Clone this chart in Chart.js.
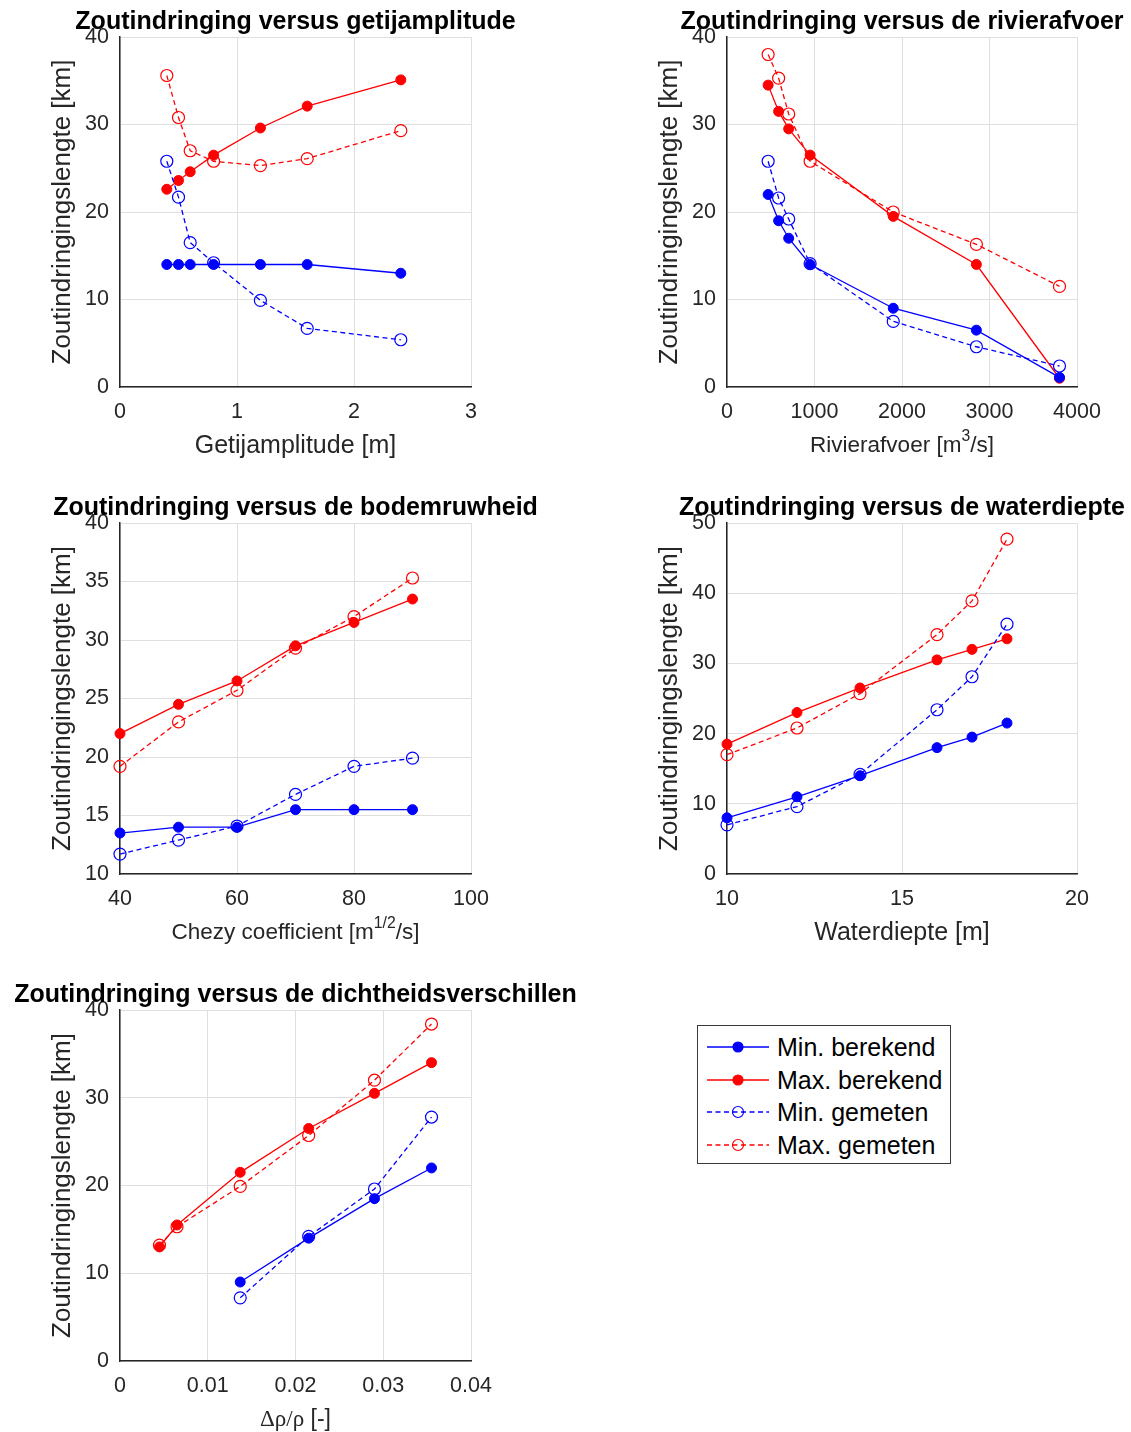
<!DOCTYPE html>
<html>
<head>
<meta charset="utf-8">
<title>Zoutindringing</title>
<script src="https://cdn.jsdelivr.net/npm/chart.js@4.4.1/dist/chart.umd.min.js"></script>
<style>
    html, body { margin: 0; padding: 0; background: #fff; overflow: hidden; }
    #page { position: relative; width: 1131px; height: 1432px; overflow: hidden;
            font-family: "Liberation Sans", Arial, sans-serif; }
    #page canvas { position: absolute; }
    #legend { position: absolute; left: 697px; top: 1025px; width: 252px; height: 137px;
              border: 1px solid #3a3a3a; background: #fff; }
    #legend .row { position: absolute; left: 0; height: 32px; line-height: 32px; width: 252px; }
    #legend svg { position: absolute; left: 0; top: 0; }
    #legend span { position: absolute; left: 79px; top: 0; font-size: 25px; color: #000; white-space: nowrap; }
</style>
</head>
<body>
<div id="page">
    <canvas id="c1"></canvas>
    <canvas id="c2"></canvas>
    <canvas id="c3"></canvas>
    <canvas id="c4"></canvas>
    <canvas id="c5"></canvas>
    <div id="legend"></div>
</div>
<script>
"use strict";

/* --- Data: getijamplitude --- */
const ampX = [0.4, 0.5, 0.6, 0.8, 1.2, 1.6, 2.4];
const ampMinBer = [14, 14, 14, 14, 14, 14, 13];
const ampMaxBer = [22.6, 23.6, 24.6, 26.5, 29.6, 32.1, 35.1];
const ampMinGem = [25.8, 21.7, 16.5, 14.2, 9.9, 6.7, 5.4];
const ampMaxGem = [35.6, 30.8, 27, 25.8, 25.3, 26.1, 29.3];

/* --- Data: rivierafvoer --- */
const qX = [470, 590, 705, 950, 1900, 2850, 3800];
const qMinBer = [22, 19, 17, 14, 9, 6.5, 1.1];
const qMaxBer = [34.5, 31.5, 29.5, 26.5, 19.5, 14, 1];
const qMinGem = [25.8, 21.6, 19.2, 14.1, 7.5, 4.6, 2.4];
const qMaxGem = [38, 35.3, 31.2, 25.8, 20, 16.3, 11.5];

/* --- Data: bodemruwheid (Chezy) --- */
const cX = [40, 50, 60, 70, 80, 90];
const cMinBer = [13.5, 14, 14, 15.5, 15.5, 15.5];
const cMaxBer = [22, 24.5, 26.5, 29.5, 31.5, 33.5];
const cMinGem = [11.7, 12.9, 14.1, 16.8, 19.2, 19.9];
const cMaxGem = [19.2, 23, 25.7, 29.3, 32, 35.3];

/* --- Data: waterdiepte --- */
const dX = [10, 12, 13.8, 16, 17, 18];
const dMinBer = [8, 11, 14, 18, 19.5, 21.5];
const dMaxBer = [18.5, 23, 26.5, 30.5, 32, 33.5];
const dMinGem = [7, 9.6, 14.2, 23.4, 28.1, 35.6];
const dMaxGem = [17, 20.8, 25.7, 34.1, 38.9, 47.7];

/* --- Data: dichtheidsverschillen --- */
const rhoX = [0.0045, 0.0065, 0.0137, 0.0215, 0.029, 0.0355];
const rhoXMin = [0.0137, 0.0215, 0.029, 0.0355];
const rhoMinBer = [9, 14, 18.5, 22];
const rhoMaxBer = [13, 15.5, 21.5, 26.5, 30.5, 34];
const rhoMinGem = [7.2, 14.2, 19.6, 27.8];
const rhoMaxGem = [13.2, 15.3, 19.9, 25.7, 32, 38.4];

const Y_LABEL = "Zoutindringingslengte [km]";
const FONT = "'Liberation Sans', Arial, sans-serif";
const TICK_COLOR = "#262626";

const SERIES = [
    { label: "Min. berekend", color: "#0000ff", dash: [], filled: true },
    { label: "Max. berekend", color: "#ff0000", dash: [], filled: true },
    { label: "Min. gemeten", color: "#0000ff", dash: [5, 3.5], filled: false },
    { label: "Max. gemeten", color: "#ff0000", dash: [5, 3.5], filled: false }
];

const PANELS = [
    {
        id: "c1", left: 120, top: 37, w: 351, h: 350, padRight: 120,
        title: "Zoutindringing versus getijamplitude",
        xLabel: [{ t: "Getijamplitude [m]" }], xLabelSize: 25,
        x: [0, 3, 1], y: [0, 40, 10],
        data: [[ampX, ampMinBer], [ampX, ampMaxBer], [ampX, ampMinGem], [ampX, ampMaxGem]]
    },
    {
        id: "c2", left: 727, top: 37, w: 350, h: 350, padRight: 50,
        title: "Zoutindringing versus de rivierafvoer",
        xLabel: [{ t: "Rivierafvoer [m" }, { t: "3", sup: true }, { t: "/s]" }], xLabelSize: 22.5,
        x: [0, 4000, 1000], y: [0, 40, 10],
        data: [[qX, qMinBer], [qX, qMaxBer], [qX, qMinGem], [qX, qMaxGem]]
    },
    {
        id: "c3", left: 120, top: 523, w: 351, h: 351, padRight: 120,
        title: "Zoutindringing versus de bodemruwheid",
        xLabel: [{ t: "Chezy coefficient [m" }, { t: "1/2", sup: true }, { t: "/s]" }], xLabelSize: 22.5,
        x: [40, 100, 20], y: [10, 40, 5],
        data: [[cX, cMinBer], [cX, cMaxBer], [cX, cMinGem], [cX, cMaxGem]]
    },
    {
        id: "c4", left: 727, top: 523, w: 350, h: 351, padRight: 50,
        title: "Zoutindringing versus de waterdiepte",
        xLabel: [{ t: "Waterdiepte [m]" }], xLabelSize: 25,
        x: [10, 20, 5], y: [0, 50, 10],
        data: [[dX, dMinBer], [dX, dMaxBer], [dX, dMinGem], [dX, dMaxGem]]
    },
    {
        id: "c5", left: 120, top: 1010, w: 351, h: 351, padRight: 120,
        title: "Zoutindringing versus de dichtheidsverschillen",
        xLabel: [{ t: "\u0394\u03c1/\u03c1", serif: true }, { t: " [-]" }], xLabelSize: 23,
        x: [0, 0.04, 0.01], y: [0, 40, 10],
        data: [[rhoXMin, rhoMinBer], [rhoX, rhoMaxBer], [rhoXMin, rhoMinGem], [rhoX, rhoMaxGem]]
    }
];

const MARGIN_LEFT = 120;
const MARGIN_TOP = 37;
const MARGIN_BOTTOM = 80;

/* --- Title and x-label (with superscripts) drawn over the chart area --- */
function drawParts(ctx, parts, cx, cy, size) {
    const fontFor = p => {
        const s = p.sup ? size * 0.7 : size;
        const fam = p.serif ? "'Liberation Serif', 'DejaVu Serif', serif" : FONT;
        return `${s}px ${fam}`;
    };
    let total = 0;
    parts.forEach(p => { ctx.font = fontFor(p); total += ctx.measureText(p.t).width; });
    let x = cx - total / 2;
    ctx.textAlign = "left";
    ctx.textBaseline = "middle";
    parts.forEach(p => {
        ctx.font = fontFor(p);
        ctx.fillText(p.t, x, p.sup ? cy - size * 0.42 : cy);
        x += ctx.measureText(p.t).width;
    });
}

const panelText = {
    id: "panelText",
    afterDraw(chart, args, opts) {
        const { ctx, chartArea } = chart;
        const cx = (chartArea.left + chartArea.right) / 2;
        ctx.save();
        ctx.fillStyle = "#000";
        ctx.font = `bold 25px ${FONT}`;
        ctx.textAlign = "center";
        ctx.textBaseline = "alphabetic";
        ctx.fillText(opts.title, cx, chartArea.top - 8);
        ctx.fillStyle = TICK_COLOR;
        drawParts(ctx, opts.xLabel, cx, chartArea.bottom + 59, opts.xLabelSize);
        ctx.restore();
    }
};

const fmtTick = v => String(+v.toFixed(6));

function buildDatasets(panel) {
    return SERIES.map((s, i) => {
        const [xs, ys] = panel.data[i];
        return {
            label: s.label,
            data: xs.map((x, k) => ({ x: x, y: ys[k] })),
            borderColor: s.color,
            borderWidth: 1.3,
            borderDash: s.dash,
            tension: 0,
            pointStyle: "circle",
            pointRadius: s.filled ? 5 : 6,
            pointBorderWidth: s.filled ? 1 : 1.2,
            pointBorderColor: s.color,
            pointBackgroundColor: s.filled ? s.color : "rgba(0,0,0,0)",
            clip: false,
            order: s.filled ? 2 : 1
        };
    });
}

function renderPanel(panel) {
    const canvas = document.getElementById(panel.id);
    const width = MARGIN_LEFT + panel.w + panel.padRight;
    const height = MARGIN_TOP + panel.h + MARGIN_BOTTOM;
    canvas.width = width;
    canvas.height = height;
    canvas.style.left = (panel.left - MARGIN_LEFT) + "px";
    canvas.style.top = (panel.top - MARGIN_TOP) + "px";
    canvas.style.width = width + "px";
    canvas.style.height = height + "px";

    const grid = { color: "#dfdfdf", lineWidth: 1, drawTicks: false };
    const border = { display: true, color: "#262626", width: 1.5 };
    const tickFont = { family: FONT, size: 21.5 };

    return new Chart(canvas.getContext("2d"), {
        type: "line",
        data: { datasets: buildDatasets(panel) },
        plugins: [panelText],
        options: {
            responsive: false,
            animation: false,
            devicePixelRatio: 1,
            layout: { padding: { left: 0, top: MARGIN_TOP, right: panel.padRight, bottom: 0 } },
            scales: {
                x: {
                    type: "linear",
                    min: panel.x[0], max: panel.x[1],
                    grid: grid, border: border,
                    ticks: { stepSize: panel.x[2], color: TICK_COLOR, font: tickFont, padding: 12,
                             maxRotation: 0, autoSkip: false, callback: fmtTick },
                    afterFit: scale => { scale.height = MARGIN_BOTTOM; }
                },
                y: {
                    type: "linear",
                    min: panel.y[0], max: panel.y[1],
                    grid: grid, border: border,
                    ticks: { stepSize: panel.y[2], color: TICK_COLOR, font: tickFont, padding: 11,
                             callback: fmtTick },
                    title: { display: true, text: Y_LABEL, color: TICK_COLOR,
                             font: { family: FONT, size: 26 }, padding: { top: 47, bottom: 0 } },
                    afterFit: scale => { scale.width = MARGIN_LEFT; }
                }
            },
            plugins: {
                legend: { display: false },
                tooltip: { enabled: false },
                panelText: { title: panel.title, xLabel: panel.xLabel, xLabelSize: panel.xLabelSize }
            }
        }
    });
}

/* --- Shared legend (sits in the empty sixth slot) --- */
function renderLegend() {
    const box = document.getElementById("legend");
    const ns = "http://www.w3.org/2000/svg";
    SERIES.forEach((s, i) => {
        const row = document.createElement("div");
        row.className = "row";
        row.style.top = (21 + 32.7 * i - 16) + "px";
        const svg = document.createElementNS(ns, "svg");
        svg.setAttribute("width", "76");
        svg.setAttribute("height", "32");
        const line = document.createElementNS(ns, "line");
        line.setAttribute("x1", "9"); line.setAttribute("x2", "71");
        line.setAttribute("y1", "16"); line.setAttribute("y2", "16");
        line.setAttribute("stroke", s.color);
        line.setAttribute("stroke-width", "1.3");
        if (s.dash.length) line.setAttribute("stroke-dasharray", s.dash.join(" "));
        const dot = document.createElementNS(ns, "circle");
        dot.setAttribute("cx", "40"); dot.setAttribute("cy", "16");
        dot.setAttribute("r", s.filled ? "5" : "5.5");
        dot.setAttribute("stroke", s.color);
        dot.setAttribute("stroke-width", "1.2");
        dot.setAttribute("fill", s.filled ? s.color : "none");
        svg.appendChild(line);
        svg.appendChild(dot);
        const label = document.createElement("span");
        label.textContent = s.label;
        row.appendChild(svg);
        row.appendChild(label);
        box.appendChild(row);
    });
}

PANELS.forEach(renderPanel);
renderLegend();
</script>
</body>
</html>
